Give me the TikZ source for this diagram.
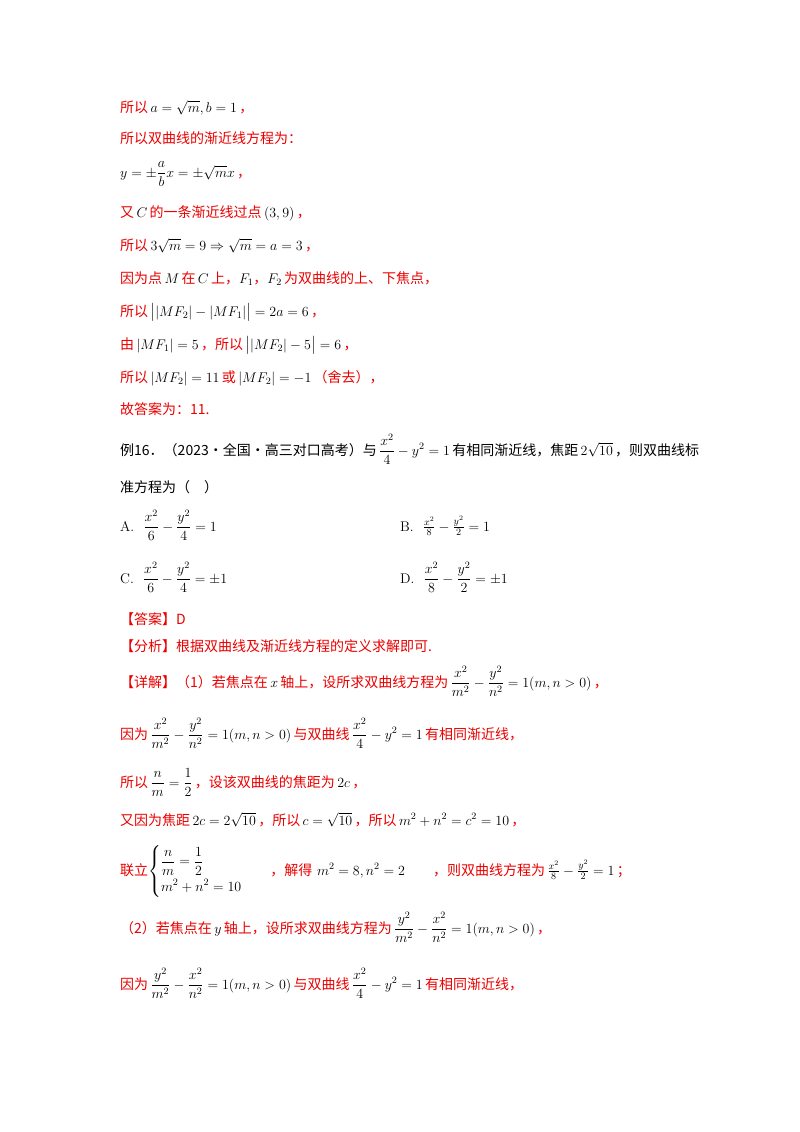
\documentclass[tikz,border=0pt]{standalone}
\usepackage{fix-cm}
\usepackage{amsmath}
\usepackage{fontspec}
\newfontfamily\cjk{Noto Sans CJK SC}
\definecolor{ans}{RGB}{235,0,0}
\newcommand{\R}[1]{{\cjk\color{ans}#1}}
\newcommand{\K}[1]{{\cjk\color{black}#1}}
\begin{document}
\begin{tikzpicture}[x=1pt,y=-1pt,
  ln/.style={anchor=base west,inner sep=0pt,font=\fontsize{14}{16}\selectfont}]
\useasboundingbox (0,0) rectangle (800,1132);
\fill[white] (0,0) rectangle (800,1132);
\node[ln] (l1) at (120,112) {\R{所以}\,$a=\sqrt{m},b=1$\,\R{，}};
\node[ln] (l2) at (120,143) {\R{所以双曲线的渐近线方程为：}};
\node[ln] (l3) at (120,177) {$y=\pm\dfrac{a}{b}x=\pm\sqrt{m}x$\,\R{，}};
\node[ln] (l4) at (120,217) {\R{又}\,$C$\,\R{的一条渐近线过点}\,$\left(3,9\right)$\,\R{，}};
\node[ln] (l5) at (120,250) {\R{所以}\,$3\sqrt{m}=9\Rightarrow\sqrt{m}=a=3$\,\R{，}};
\node[ln] (l6) at (120,283) {\R{因为点}\,$M$\,\R{在}\,$C$\,\R{上，}$F_1$\R{，}$F_2$\,\R{为双曲线的上、下焦点，}};
\node[ln] (l7) at (120,316) {\R{所以}\,$\big||MF_2|-|MF_1|\big|=2a=6$\,\R{，}};
\node[ln] (l8) at (120,349) {\R{由}\,$|MF_1|=5$\,\R{，所以}\,$\big||MF_2|-5\big|=6$\,\R{，}};
\node[ln] (l9) at (120,382) {\R{所以}\,$|MF_2|=11$\,\R{或}\,$|MF_2|=-1$\,\R{（舍去），}};
\node[ln] (l10) at (120,414) {\R{故答案为：11.}};
\node[ln] (q1) at (120,455) {\K{例16．（2023·全国·高三对口高考）与}\,$\dfrac{x^2}{4}-y^2=1$\,\K{有相同渐近线，焦距}\,$2\sqrt{10}$\,\K{，则双曲线标}};
\node[ln] (q2) at (120,492) {\K{准方程为（\quad）}};
\node[ln] (oa) at (120,531) {A.\ \ $\dfrac{x^2}{6}-\dfrac{y^2}{4}=1$};
\node[ln] (ob) at (400,531) {B.\ \ $\frac{x^2}{8}-\frac{y^2}{2}=1$};
\node[ln] (oc) at (120,583) {C.\ \ $\dfrac{x^2}{6}-\dfrac{y^2}{4}=\pm1$};
\node[ln] (od) at (400,583) {D.\ \ $\dfrac{x^2}{8}-\dfrac{y^2}{2}=\pm1$};
\node[ln] (a1) at (120,624) {\R{【答案】D}};
\node[ln] (a2) at (120,651) {\R{【分析】根据双曲线及渐近线方程的定义求解即可.}};
\node[ln] (a3) at (120,687) {\R{【详解】（1）若焦点在}\,$x$\,\R{轴上，设所求双曲线方程为}\,$\dfrac{x^2}{m^2}-\dfrac{y^2}{n^2}=1(m,n>0)$\,\R{，}};
\node[ln] (a4) at (120,739) {\R{因为}\,$\dfrac{x^2}{m^2}-\dfrac{y^2}{n^2}=1(m,n>0)$\,\R{与双曲线}\,$\dfrac{x^2}{4}-y^2=1$\,\R{有相同渐近线，}};
\node[ln] (a5) at (120,787) {\R{所以}\,$\dfrac{n}{m}=\dfrac{1}{2}$\,\R{，设该双曲线的焦距为}\,$2c$\,\R{，}};
\node[ln] (a6) at (120,825) {\R{又因为焦距}\,$2c=2\sqrt{10}$\,\R{，所以}\,$c=\sqrt{10}$\,\R{，所以}\,$m^2+n^2=c^2=10$\,\R{，}};
\node[ln] (a7) at (120,875) {\R{联立}$\left\{\begin{aligned}&\frac{n}{m}=\frac{1}{2}\\&m^2+n^2=10\end{aligned}\right.$\qquad\R{，解得}\ $m^2=8,n^2=2$\qquad\R{，则双曲线方程为}\,$\frac{x^2}{8}-\frac{y^2}{2}=1$\,\R{；}};
\node[ln] (a8) at (120,933) {\R{（2）若焦点在}\,$y$\,\R{轴上，设所求双曲线方程为}\,$\dfrac{y^2}{m^2}-\dfrac{x^2}{n^2}=1(m,n>0)$\,\R{，}};
\node[ln] (a9) at (120,989) {\R{因为}\,$\dfrac{y^2}{m^2}-\dfrac{x^2}{n^2}=1(m,n>0)$\,\R{与双曲线}\,$\dfrac{x^2}{4}-y^2=1$\,\R{有相同渐近线，}};
\end{tikzpicture}
\end{document}
